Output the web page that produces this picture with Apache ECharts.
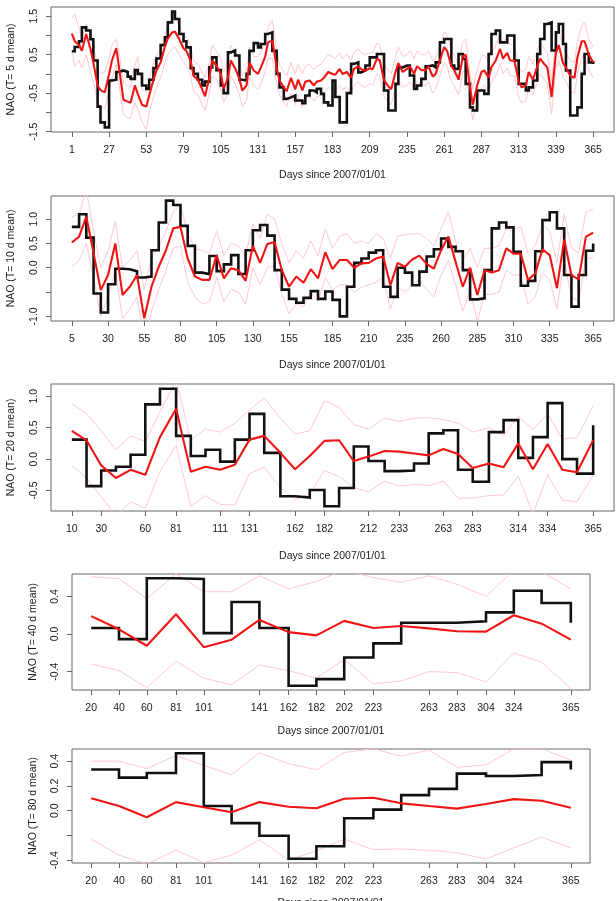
<!DOCTYPE html>
<html>
<head>
<meta charset="utf-8">
<script src="https://cdn.jsdelivr.net/npm/echarts@6/dist/echarts.min.js"></script>
<style>
html,body{margin:0;padding:0;background:#fff;}
#chart{width:616px;height:901px;}
</style>
</head>
<body>
<div id="chart"></div>
<script>
// ---------- Panel 1 : T = 5 d ----------
const days5 = [1,3,6,8,11, 14,16,19,21,24, 27,29,32,34,37, 40,42,45,47,50, 53,55,58,60,63,
  66,68,71,73,76, 79,81,84,86,89, 92,94,97,99,102, 105,107,110,112,115, 118,120,123,125,128,
  131,133,136,138,141, 144,146,149,151,154, 157,159,162,164,167, 170,172,175,177,180,
  183,185,188,190,193, 196,198,201,203,206, 209,211,214,216,219, 222,224,227,229,232,
  235,237,240,242,245, 248,250,253,255,258, 261,263,266,268,271, 274,276,279,281,284,
  287,289,292,294,297, 300,302,305,307,310, 313,315,318,320,323, 326,328,331,333,336,
  339,341,344,346,349, 352,354,357,359,362, 365];
const obs5 = [0.59,0.70,0.85,1.21,1.13, 0.90,0.35,-0.85,-1.26,-1.39, -0.17,-0.15,0.05,0.09,0.05,
  -0.07,-0.13,0.10,0.00,-0.30, -0.39,-0.15,0.15,0.40,0.75, 0.95,1.34,1.62,1.43,1.04,
  0.85,0.69,0.15,0.00,-0.15, -0.30,-0.20,0.17,0.43,0.10, -0.30,-0.50,0.56,0.61,0.48,
  -0.15,-0.17,0.00,0.60,0.80, 0.69,0.78,1.04,1.08,0.60, 0.00,-0.35,-0.65,-0.61,-0.56,
  -0.69,-0.69,-0.76,-0.56,-0.43, -0.48,-0.39,-0.52,-0.74,-0.82, -0.17,-0.60,-1.26,-1.26,-0.50,
  0.26,0.30,0.04,0.09,0.22, 0.43,0.43,0.52,0.52,-0.43, -0.95,-0.95,-0.26,0.17,0.22,
  0.22,-0.04,-0.39,-0.30,-0.13, 0.20,0.22,0.17,0.30,0.82, 0.91,0.91,0.22,0.13,0.52,
  0.39,-0.26,-0.87,-0.95,-0.43, -0.43,-0.52,0.52,1.04,1.13, 0.82,0.82,1.00,1.00,0.35,
  -0.26,-0.26,-0.43,-0.35,-0.17, 0.52,0.91,1.30,1.34,0.61, 1.08,1.30,0.78,0.09,-1.08,
  -1.08,-0.87,0.00,0.52,0.30, 0.26];
const fc5 = [1.05,0.85,0.75,0.60,1.04, 0.65,0.30,-0.30,-0.42,-0.48, 0.00,0.35,0.67,0.15,-0.67,
  -0.72,-0.75,-0.30,-0.52,-0.80, -0.85,-0.56,-0.15,0.08,0.30, 0.72,0.92,1.08,1.10,0.90,
  0.66,0.60,0.33,-0.05,-0.15, -0.40,-0.58,-0.10,0.35,0.22, 0.00,-0.38,-0.10,0.35,0.15,
  -0.13,-0.43,-0.30,0.30,0.09, 0.00,0.17,0.45,0.82,0.87, 0.17,-0.17,-0.35,-0.45,-0.10,
  -0.40,-0.15,-0.43,-0.20,-0.17, -0.30,-0.20,-0.17,-0.10,0.05, 0.00,-0.02,0.13,0.00,0.05,
  -0.10,0.13,0.20,0.12,0.08, 0.15,0.12,0.40,0.35,-0.17, -0.32,-0.40,0.05,0.28,0.05,
  0.13,0.20,0.00,0.20,0.10, 0.10,0.20,-0.07,0.00,0.35, 0.70,0.60,0.20,0.10,-0.15,
  0.45,0.50,-0.35,-0.80,-0.30, 0.05,0.09,-0.10,0.18,0.35, 0.65,0.40,0.55,0.35,0.35,
  -0.20,-0.35,-0.30,0.05,-0.15, 0.20,0.40,0.25,0.17,-0.60, 0.55,0.75,0.28,0.17,-0.05,
  -0.10,0.43,0.85,0.85,0.50, 0.30];
const hi5 = [1.45,1.55,1.20,0.95,1.30, 1.10,0.75,0.20,0.00,0.05, 0.40,0.75,0.90,0.55,-0.25,
  -0.30,-0.35,0.20,0.45,-0.40, -0.45,-0.15,0.30,0.45,0.65, 1.00,1.25,1.40,1.45,1.25,
  1.00,0.95,0.70,0.35,0.25, 0.05,-0.10,0.30,0.75,0.60, 0.40,0.05,0.35,0.75,0.55,
  0.30,-0.05,0.10,0.70,0.45, 0.45,0.55,0.85,1.20,1.40, 0.60,0.25,0.05,-0.05,0.30,
  0.00,0.25,0.00,0.20,0.25, 0.10,0.20,0.25,0.35,0.50, 0.45,0.40,0.55,0.40,0.50,
  0.35,0.55,0.65,0.55,0.50, 0.55,0.55,0.80,0.75,0.25, 0.10,0.00,0.45,0.70,0.45,
  0.50,0.60,0.40,0.60,0.50, 0.50,0.60,0.35,0.40,0.75, 1.10,1.00,0.60,0.50,0.25,
  0.85,0.90,0.05,-0.40,0.10, 0.45,0.50,0.30,0.55,0.75, 1.05,0.80,0.95,0.75,0.75,
  0.20,0.05,0.10,0.45,0.25, 0.60,0.80,0.65,0.55,-0.20, 0.95,1.15,0.70,0.55,0.35,
  0.30,0.85,1.25,1.35,0.90, 0.70];
const lo5 = [0.60,0.20,0.35,0.15,0.50, 0.05,-0.20,-0.75,-0.85,-0.90, -0.45,-0.10,0.25,-0.30,-1.05,
  -1.15,-1.15,-0.75,-0.90,-1.25, -1.45,-1.00,-0.60,-0.35,-0.10, 0.30,0.50,0.65,0.70,0.50,
  0.30,0.20,-0.05,-0.45,-0.55, -0.80,-0.95,-0.50,-0.05,-0.15, -0.40,-0.75,-0.50,-0.05,-0.25,
  -0.55,-0.85,-0.70,-0.10,-0.30, -0.40,-0.25,0.05,0.40,0.40, -0.25,-0.55,-0.75,-0.85,-0.50,
  -0.80,-0.55,-0.85,-0.60,-0.60, -0.70,-0.60,-0.55,-0.50,-0.35, -0.40,-0.45,-0.30,-0.40,-0.35,
  -0.50,-0.30,-0.20,-0.30,-0.35, -0.25,-0.30,0.00,-0.05,-0.60, -0.75,-0.80,-0.35,-0.15,-0.35,
  -0.30,-0.20,-0.40,-0.20,-0.30, -0.30,-0.20,-0.50,-0.40,-0.05, 0.30,0.20,-0.20,-0.30,-0.55,
  0.05,0.10,-0.75,-1.20,-0.70, -0.35,-0.30,-0.50,-0.20,-0.05, 0.25,0.00,0.15,-0.05,-0.05,
  -0.60,-0.75,-0.70,-0.35,-0.55, -0.20,0.00,-0.15,-0.25,-1.05, 0.15,0.35,-0.10,-0.20,-0.45,
  -0.50,0.00,0.45,0.45,0.10, -0.10];
const xTicks5 = [1,27,53,79,105,131,157,183,209,235,261,287,313,339,365];
const yTicks5 = [-1.5,-1,-0.5,0,0.5,1,1.5];
const yLabels5 = [-1.5,-0.5,0.5,1.5];

// ---------- Panel 2 : T = 10 d ----------
const days10 = [5,10,15,20,25,30,35,40,45,50,55,60,65,70,75,80,85,90,95,100,105,110,115,120,125,
  130,135,140,145,150,155,160,165,170,175,180,185,190,195,200,205,210,215,220,225,230,235,240,
  245,250,255,260,265,270,275,280,285,290,295,300,305,310,315,320,325,330,335,340,345,350,355,360,365];
const obs10 = [0.84,1.10,0.62,-0.53,-0.92,-0.34,-0.02,-0.03,-0.07,-0.20,-0.18,0.36,0.93,1.38,1.29,
  0.86,0.45,-0.10,-0.13,0.24,-0.07,0.07,0.26,-0.13,0.36,0.77,0.88,0.66,-0.05,-0.45,-0.64,-0.72,
  -0.62,-0.48,-0.64,-0.49,-0.66,-1.00,-0.39,0.10,0.19,0.31,0.36,-0.39,-0.60,0.00,-0.10,-0.36,
  -0.08,0.23,0.38,0.60,0.43,0.34,-0.05,-0.65,-0.63,-0.05,0.81,0.93,0.83,0.33,-0.37,-0.27,0.34,
  0.98,1.14,0.81,-0.15,-0.80,-0.15,0.35,0.50];
const fc10 = [0.52,0.64,1.05,0.30,-0.46,-0.15,0.50,-0.56,-0.39,-0.15,-1.04,-0.39,0.02,0.36,0.81,
  0.84,0.19,-0.18,-0.25,-0.25,0.26,-0.22,-0.01,-0.05,-0.27,0.45,0.10,0.49,0.53,-0.05,-0.39,-0.18,
  -0.31,-0.03,-0.22,0.32,-0.03,0.16,0.16,0.00,0.09,0.10,0.19,0.23,-0.36,0.10,0.02,0.17,0.25,0.08,
  -0.02,0.36,0.64,0.12,-0.39,0.00,-0.56,-0.05,-0.10,-0.05,0.40,0.29,0.29,-0.25,-0.12,0.38,0.26,
  -0.42,0.58,-0.15,-0.24,0.64,0.72];
const hi10 = [1.05,1.10,1.60,0.75,0.00,0.35,0.95,0.00,0.15,0.35,-0.45,0.20,0.45,0.75,1.15,1.30,
  0.70,0.40,0.35,0.30,0.75,0.25,0.50,0.45,0.25,0.90,0.60,1.10,1.00,0.50,0.10,0.35,0.20,0.55,0.25,
  0.80,0.40,0.65,0.70,0.50,0.55,0.50,0.70,0.60,0.20,0.65,0.68,0.70,0.70,0.60,0.45,0.80,1.15,0.55,
  0.15,0.40,0.00,0.40,0.40,0.45,0.80,0.75,0.85,0.30,0.45,0.90,0.75,0.10,1.10,0.40,0.30,1.15,1.20];
const lo10 = [0.02,0.15,0.50,-0.20,-1.00,-0.60,-0.05,-1.05,-0.85,-0.60,-1.50,-0.90,-0.45,-0.05,
  0.40,0.45,-0.30,-0.60,-0.75,-0.70,-0.20,-0.70,-0.45,-0.50,-0.75,0.00,-0.35,0.00,0.05,-0.55,
  -0.95,-0.75,-0.80,-0.50,-0.70,-0.20,-0.45,-0.35,-0.35,-0.50,-0.40,-0.35,-0.30,-0.20,-0.85,
  -0.40,-0.50,-0.35,-0.25,-0.45,-0.60,-0.15,0.15,-0.35,-0.90,-0.45,-1.10,-0.55,-0.55,-0.50,
  -0.05,-0.15,-0.15,-0.75,-0.60,-0.10,-0.25,-0.85,0.15,-0.60,-0.70,0.20,0.20];
const xTicks10 = [5,30,55,80,105,130,155,185,210,235,260,285,310,335,365];
const yTicks10 = [-1,-0.5,0,0.5,1];
const yLabels10 = [-1,0,0.5,1];

// ---------- Panel 3 : T = 20 d ----------
const days20 = [10,20,30,40,50,60,70,81,91,101,111,121,131,141,152,162,172,182,192,202,212,223,
  233,243,253,263,273,283,294,304,314,324,334,344,354,365];
const obs20 = [0.31,-0.43,-0.18,-0.12,0.07,0.87,1.12,0.37,0.05,0.15,-0.04,0.31,0.72,0.10,-0.59,
  -0.61,-0.49,-0.75,-0.46,0.20,-0.03,-0.19,-0.18,-0.07,0.41,0.46,-0.17,-0.36,0.43,0.62,0.02,
  0.35,0.89,0.00,-0.23,0.54];
const fc20 = [0.45,0.30,-0.10,-0.30,-0.17,-0.25,0.35,0.80,-0.20,-0.12,-0.17,-0.09,0.31,0.37,0.10,
  -0.16,0.05,0.29,0.30,-0.03,0.04,0.13,0.12,0.09,0.06,0.16,0.08,-0.14,-0.07,-0.13,0.25,-0.16,
  0.24,-0.17,-0.21,0.30];
const hi20 = [0.88,0.72,0.45,0.15,0.37,0.28,0.75,1.25,0.30,0.48,0.43,0.57,0.78,0.97,0.65,0.40,
  0.45,0.93,0.82,0.55,0.48,0.65,0.60,0.65,0.66,0.63,0.57,0.43,0.50,0.37,0.68,0.47,0.72,0.32,
  0.34,0.85];
const lo20 = [-0.10,-0.30,-0.60,-0.90,-0.68,-0.78,-0.20,0.22,-0.75,-0.58,-0.72,-0.73,-0.23,-0.13,
  -0.45,-0.65,-0.55,-0.18,-0.28,-0.45,-0.52,-0.35,-0.43,-0.40,-0.42,-0.35,-0.62,-0.62,-0.58,
  -0.57,-0.27,-0.87,-0.25,-0.65,-0.68,-0.25];
const xTicks20 = [10,30,60,81,111,131,162,182,212,233,263,283,314,334,365];
const yTicks20 = [-0.5,0,0.5,1];
const yLabels20 = [-0.5,0,0.5,1];

// ---------- Panel 4 : T = 40 d ----------
const days40 = [20,40,60,81,101,121,141,162,182,202,223,243,263,283,304,324,344,365];
const obs40 = [0.064,-0.054,0.593,0.586,0.010,0.340,0.064,-0.550,-0.480,-0.250,-0.100,0.120,0.120,
  0.136,0.230,0.460,0.330,0.120];
const fc40 = [0.19,0.05,-0.125,0.21,-0.14,-0.06,0.15,0.02,-0.014,0.14,0.064,0.086,0.06,0.03,0.025,
  0.20,0.11,-0.06];
const hi40 = [0.61,0.59,0.375,0.64,0.45,0.45,0.62,0.48,0.56,0.68,0.60,0.55,0.62,0.53,0.40,0.68,
  0.66,0.48];
const lo40 = [-0.32,-0.39,-0.57,-0.29,-0.47,-0.54,-0.33,-0.39,-0.47,-0.27,-0.53,-0.50,-0.40,-0.41,
  -0.51,-0.20,-0.30,-0.58];
const xTicks40 = [20,40,60,81,101,141,162,182,202,223,263,283,304,324,365];
const yTicks40 = [-0.4,0,0.4];
const yLabels40 = [-0.4,0,0.4];

// ---------- Panel 5 : T = 80 d ----------
const days80 = [20,40,60,81,101,121,141,162,182,202,223,243,263,283,304,324,344,365];
const obs80 = [0.333,0.267,0.304,0.464,0.037,-0.101,-0.203,-0.389,-0.288,-0.061,0.008,0.125,0.176,
  0.299,0.280,0.288,0.392,0.333];
const fc80 = [0.100,0.037,-0.053,0.069,0.027,-0.013,0.069,0.032,0.019,0.096,0.104,0.059,0.037,0.016,
  0.053,0.093,0.080,0.024];
const hi80 = [0.40,0.40,0.34,0.445,0.365,0.29,0.467,0.38,0.33,0.47,0.50,0.44,0.49,0.35,0.37,0.50,
  0.50,0.41];
const lo80 = [-0.23,-0.36,-0.43,-0.32,-0.42,-0.36,-0.235,-0.40,-0.325,-0.23,-0.315,-0.31,-0.32,
  -0.34,-0.39,-0.30,-0.215,-0.30];
const xTicks80 = [20,40,60,81,101,141,162,182,202,223,263,283,304,324,365];
const yTicks80 = [-0.4,-0.2,0,0.2,0.4];
const yLabels80 = [-0.4,0,0.2,0.4];

// ---------- layout ----------
const FONT = 'Liberation Sans, Arial, sans-serif';
const TXT = '#1a1a1a';
const AX = '#666';
const panels = [
  {x:days5, obs:obs5, fc:fc5, hi:hi5, lo:lo5, xt:xTicks5, yt:yTicks5, yl:yLabels5, name:'NAO (T= 5 d mean)',
   grid:{left:51, top:7, width:563, height:125}, xGap:38, yGap:34},
  {x:days10, obs:obs10, fc:fc10, hi:hi10, lo:lo10, xt:xTicks10, yt:yTicks10, yl:yLabels10, name:'NAO (T= 10 d mean)',
   grid:{left:51, top:196, width:563, height:125}, xGap:39, yGap:34},
  {x:days20, obs:obs20, fc:fc20, hi:hi20, lo:lo20, xt:xTicks20, yt:yTicks20, yl:yLabels20, name:'NAO (T= 20 d mean)',
   grid:{left:51, top:384, width:563, height:127}, xGap:40, yGap:34},
  {x:days40, obs:obs40, fc:fc40, hi:hi40, lo:lo40, xt:xTicks40, yt:yTicks40, yl:yLabels40, name:'NAO (T= 40 d mean)',
   grid:{left:72, top:574, width:518, height:116}, xGap:36, yGap:33},
  {x:days80, obs:obs80, fc:fc80, hi:hi80, lo:lo80, xt:xTicks80, yt:yTicks80, yl:yLabels80, name:'NAO (T= 80 d mean)',
   grid:{left:72, top:749, width:518, height:114}, xGap:35, yGap:33}
];

function padded(arr){
  const lo = Math.min.apply(null, arr), hi = Math.max.apply(null, arr), d = (hi - lo) * 0.04;
  return [lo - d, hi + d];
}
function pairs(xs, ys){ return xs.map((x, i) => [x, ys[i]]); }

const grids = [], xAxes = [], yAxes = [], series = [];
panels.forEach((p, i) => {
  grids.push(Object.assign({show:true, borderColor:AX, borderWidth:1, backgroundColor:'transparent',
    containLabel:false, outerBoundsMode:'none'}, p.grid));
  const xr = padded(p.x), yr = padded(p.obs);
  xAxes.push({
    gridIndex:i, type:'value', min:xr[0], max:xr[1], position:'bottom',
    axisLine:{show:false, onZero:false},
    axisTick:{show:true, inside:false, length:5, lineStyle:{color:AX, width:1}, customValues:p.xt},
    axisLabel:{customValues:p.xt, fontSize:10.5, fontFamily:FONT, color:TXT, margin:13, formatter:v => String(Math.round(v))},
    splitLine:{show:false},
    name:'Days since 2007/01/01', nameLocation:'middle', nameGap:p.xGap,
    nameTextStyle:{fontSize:10.5, fontFamily:FONT, color:TXT}
  });
  yAxes.push({
    gridIndex:i, type:'value', min:yr[0], max:yr[1], position:'left',
    axisLine:{show:false, onZero:false},
    axisTick:{show:true, inside:false, length:5, lineStyle:{color:AX, width:1}, customValues:p.yt},
    axisLabel:{customValues:p.yl, rotate:90, fontSize:10.5, fontFamily:FONT, color:TXT, margin:11,
      formatter:v => v.toFixed(1)},
    splitLine:{show:false},
    name:p.name, nameLocation:'middle', nameRotate:90, nameGap:p.yGap,
    nameTextStyle:{fontSize:10.5, fontFamily:FONT, color:TXT}
  });
  const base = {type:'line', xAxisIndex:i, yAxisIndex:i, symbol:'none', silent:true, animation:false, clip:true};
  series.push(Object.assign({}, base, {data:pairs(p.x, p.hi), lineStyle:{color:'#ffc8ce', width:1}, z:1}));
  series.push(Object.assign({}, base, {data:pairs(p.x, p.lo), lineStyle:{color:'#ffc8ce', width:1}, z:1}));
  series.push(Object.assign({}, base, {data:pairs(p.x, p.obs), step:'end', lineStyle:{color:'#111', width:2.6, join:'miter', cap:'butt'}, z:2}));
  series.push(Object.assign({}, base, {data:pairs(p.x, p.fc), lineStyle:{color:'#f01414', width:2.1}, z:3}));
});

const chart = echarts.init(document.getElementById('chart'), null, {renderer:'canvas'});
chart.setOption({
  animation:false,
  backgroundColor:'#fff',
  grid:grids, xAxis:xAxes, yAxis:yAxes, series:series
});
</script>
</body>
</html>
